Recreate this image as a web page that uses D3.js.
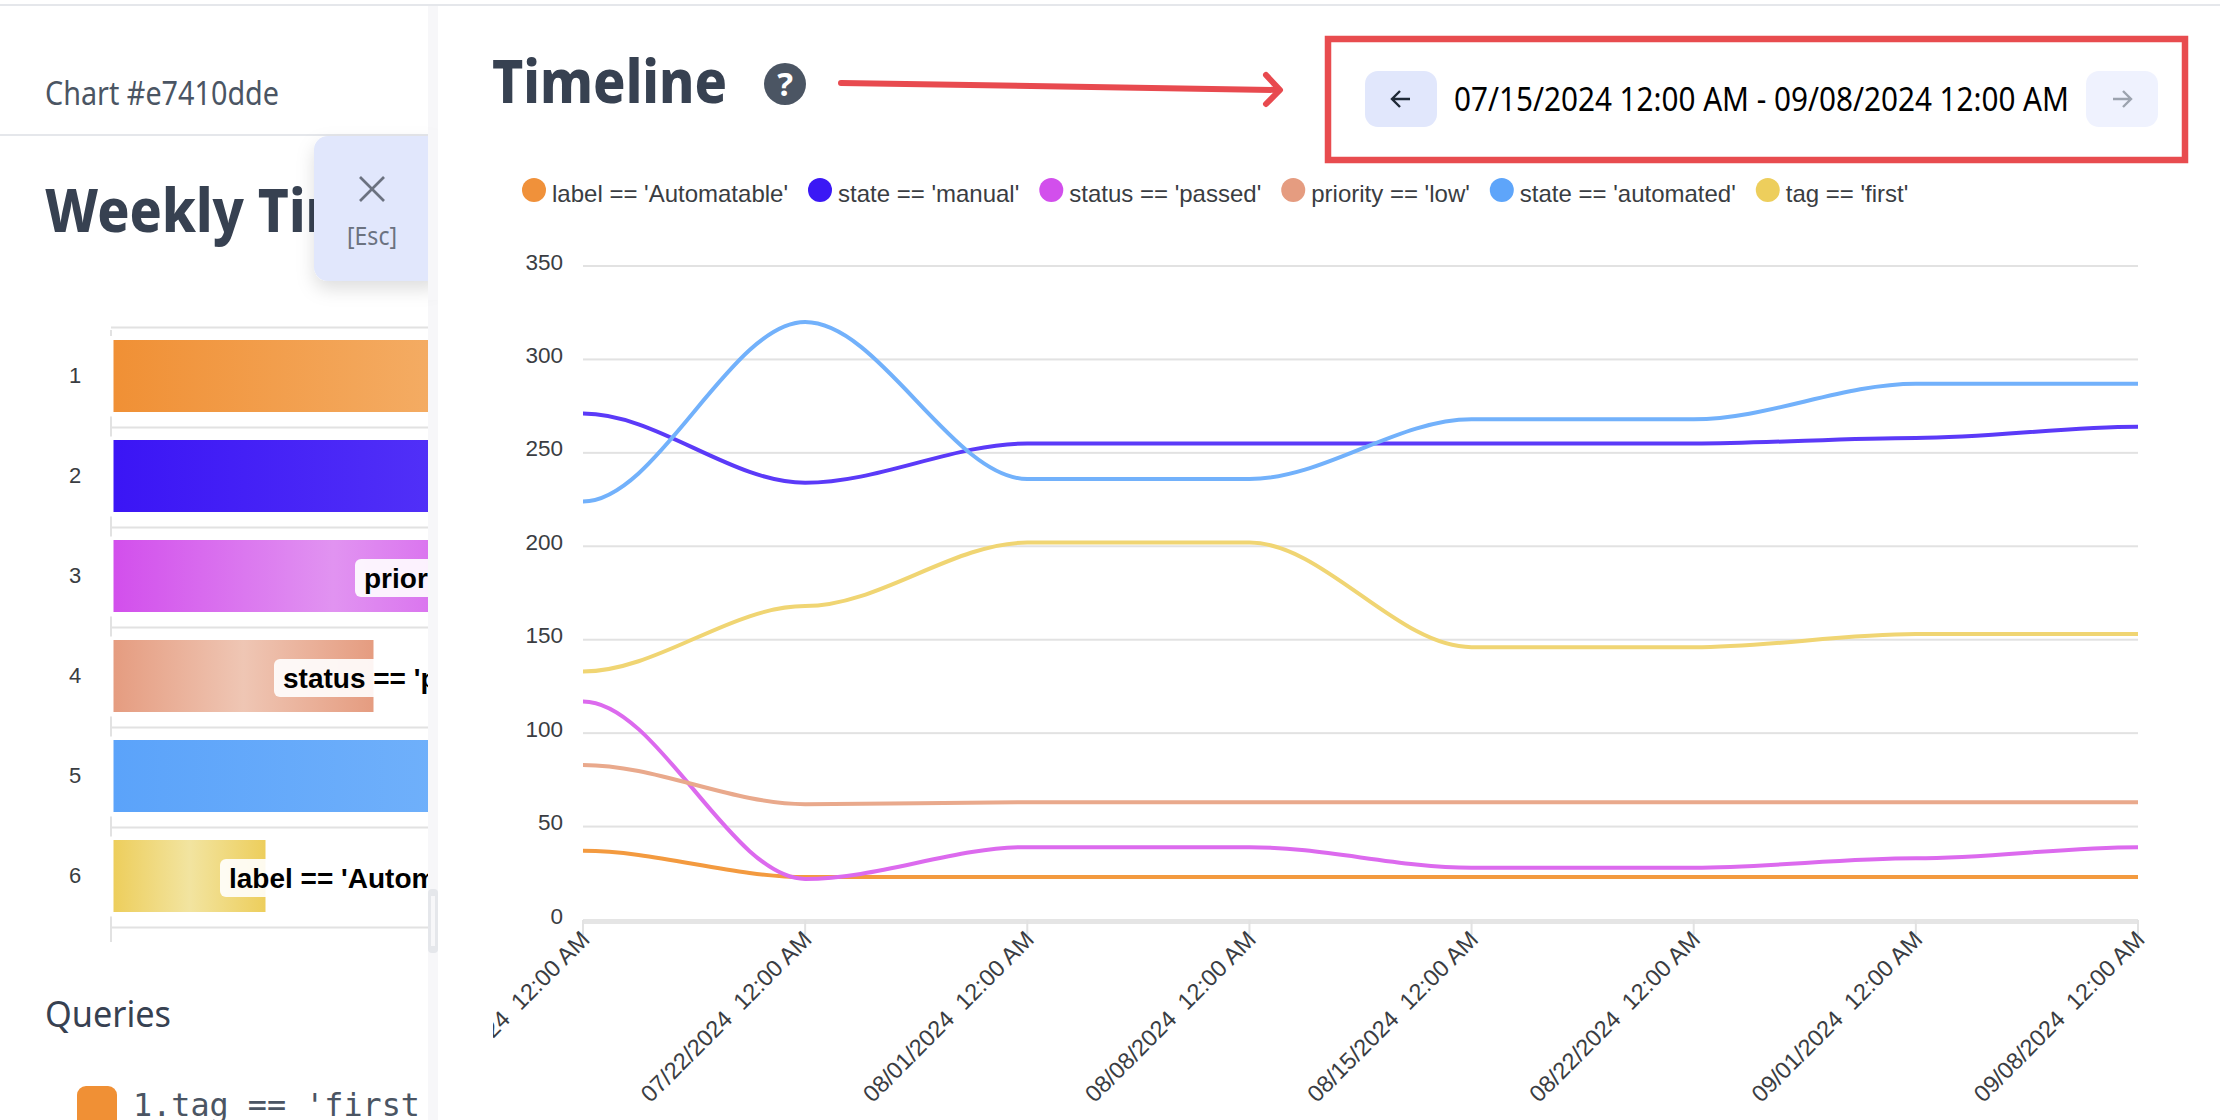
<!DOCTYPE html>
<html><head><meta charset="utf-8">
<script src="https://cdn.jsdelivr.net/npm/d3@7"></script>
<style>
html,body{margin:0;padding:0;background:#fff;overflow:hidden}
svg{display:block}
text{white-space:pre}
</style></head><body><svg id="c" width="2220" height="1120"></svg>
<script>
const dates=["07/15/2024  12:00 AM","07/22/2024  12:00 AM","08/01/2024  12:00 AM","08/08/2024  12:00 AM","08/15/2024  12:00 AM","08/22/2024  12:00 AM","09/01/2024  12:00 AM","09/08/2024  12:00 AM"];
const seriesNames=["label == 'Automatable'","state == 'manual'","status == 'passed'","priority == 'low'","state == 'automated'","tag == 'first'"];
const automatable=[37,23,23,23,23,23,23,23];
const manual=[271,234,255,255,255,255,258,264];
const passed=[117,22,39,39,28,28,33,39];
const low=[83,62,63,63,63,63,63,63];
const automated=[224,320,236,236,268,268,287,287];
const first=[133,168,202,202,146,146,153,153];
const yTicks=[0,50,100,150,200,250,300,350];
const legendColors=["#f0913a","#3b18f5","#d24fec","#e59c80","#5ea5fa","#edce5c"];
const lineColors=["#f39a3f","#5b3af8","#dc6aee","#e9a98c","#72b1fb","#f0d573"];
const barRows=[1,2,3,4,5,6];
const barValues=[80,76,44,26,80,15.2];
const barStart=["#f09035","#3b15f5","#d24fec","#e59c80","#5ba3fa","#edce5c"];
const barMid=["#f5b36f","#5535f8","#e193f1","#efc6b4","#74b3fb","#f2e4a0"];
const barLabels=[null,null,"priority == 'low'","status == 'passed'",null,"label == 'Automatable'"];

const svg=d3.select("#c");
const ink="#374151",axisInk="#3a3d42",font="'Liberation Sans',Arial,sans-serif",ui="'Noto Sans',sans-serif";
const defs=svg.append("defs");
defs.append("clipPath").attr("id","left").append("rect").attr("x",0).attr("y",0).attr("width",428).attr("height",1120);
defs.append("clipPath").attr("id","xclip").append("rect").attr("x",493).attr("y",925).attr("width",1727).attr("height",195);
const sh=defs.append("filter").attr("id","sh").attr("x","-40%").attr("y","-40%").attr("width","180%").attr("height","180%");
sh.append("feDropShadow").attr("dx",0).attr("dy",8).attr("stdDeviation",9).attr("flood-color","#000").attr("flood-opacity",.13);
barRows.forEach((r,i)=>{
  const g=defs.append("linearGradient").attr("id","g"+r);
  g.append("stop").attr("offset","0%").attr("stop-color",barStart[i]);
  g.append("stop").attr("offset","50%").attr("stop-color",barMid[i]);
  g.append("stop").attr("offset","100%").attr("stop-color",barStart[i]);
});

// ---- page chrome
svg.append("rect").attr("x",0).attr("y",4).attr("width",2220).attr("height",2).attr("fill","#e5e7eb");
svg.append("rect").attr("x",428).attr("y",6).attr("width",10).attr("height",1114).attr("fill","#f7f7f9");

// ---- left panel
const L=svg.append("g").attr("clip-path","url(#left)");
L.append("text").text("Chart #e7410dde").attr("x",45).attr("y",105).attr("font-family",ui).attr("font-size",33).attr("fill","#4b5563").attr("textLength",234).attr("lengthAdjust","spacingAndGlyphs");
L.append("rect").attr("x",0).attr("y",134).attr("width",428).attr("height",2).attr("fill","#e5e7eb");
L.append("text").text("Weekly Timeline").attr("x",45).attr("y",232).attr("font-family",ui).attr("font-weight",800).attr("font-size",61).attr("fill",ink).attr("textLength",446).attr("lengthAdjust","spacingAndGlyphs");

const bx=d3.scaleLinear().domain([0,100]).range([113.5,1113.5]);
const by=d3.scaleBand().domain(barRows).range([326,926]).paddingInner(.28).paddingOuter(.14);
const rowLine=v=>by(v)-12.5;
barRows.concat([7]).forEach(r=>{
  const y=r===7?rowLine(6)+100:rowLine(r);
  L.append("rect").attr("x",111).attr("y",y-1).attr("width",317).attr("height",2).attr("fill","#e2e2e2");
  L.append("rect").attr("x",110).attr("y",y-11).attr("width",2).attr("height",r===1?0:20).attr("fill","#e2e2e2");
});
L.append("rect").attr("x",110).attr("y",330).attr("width",2).attr("height",6).attr("fill","#e2e2e2");
L.append("rect").attr("x",110).attr("y",930).attr("width",2).attr("height",12).attr("fill","#e2e2e2");
L.selectAll("rect.bar").data(barRows).join("rect").attr("class","bar")
  .attr("x",bx(0)).attr("y",d=>by(d)).attr("height",by.bandwidth())
  .attr("width",(d,i)=>bx(barValues[i])-bx(0)).attr("fill",d=>`url(#g${d})`);
L.selectAll("text.row").data(barRows).join("text").attr("class","row").text(d=>d)
  .attr("x",75).attr("y",d=>by(d)+by.bandwidth()/2+7).attr("text-anchor","middle")
  .attr("font-family",font).attr("font-size",22).attr("fill",axisInk);
const labelLeft={3:355,4:274,6:220};
barRows.forEach((r,i)=>{
  if(!barLabels[i])return;
  L.append("rect").attr("x",labelLeft[r]).attr("y",by(r)+19).attr("width",400).attr("height",38).attr("rx",6).attr("fill","#fff").attr("fill-opacity",.9);
  L.append("text").text(barLabels[i]).attr("x",labelLeft[r]+9).attr("y",by(r)+48).attr("font-family",font).attr("font-weight",700).attr("font-size",28).attr("fill","#000");
});
L.append("text").text("Queries").attr("x",45).attr("y",1027).attr("font-family",ui).attr("font-size",36).attr("fill",ink).attr("textLength",126).attr("lengthAdjust","spacingAndGlyphs");
L.append("rect").attr("x",77).attr("y",1086).attr("width",40).attr("height",50).attr("rx",9).attr("fill",barStart[0]);
L.append("text").text("1.tag == 'first").attr("x",133).attr("y",1116).attr("font-family","'DejaVu Sans Mono','Liberation Mono',monospace").attr("font-size",32).attr("fill","#4b5563").attr("textLength",287).attr("lengthAdjust","spacingAndGlyphs");

// Esc button
svg.append("rect").attr("x",314).attr("y",136).attr("width",128).attr("height",145).attr("rx",14).attr("fill","#e1e7fc").attr("filter","url(#sh)");
svg.append("rect").attr("x",428).attr("y",130).attr("width",10).attr("height",170).attr("fill","#f7f7f9");
svg.append("rect").attr("x",438).attr("y",120).attr("width",40).attr("height",190).attr("fill","#fff");
[[-12,-12,12,12],[-12,12,12,-12]].forEach(s=>svg.append("line").attr("x1",372+s[0]).attr("y1",189+s[1]).attr("x2",372+s[2]).attr("y2",189+s[3]).attr("stroke","#6b7280").attr("stroke-width",2.6));
svg.append("text").text("[Esc]").attr("x",372).attr("y",245).attr("text-anchor","middle").attr("font-family",ui).attr("font-size",26).attr("fill","#6b7280").attr("textLength",50).attr("lengthAdjust","spacingAndGlyphs");
svg.append("rect").attr("x",428).attr("y",889).attr("width",10).attr("height",64).attr("rx",4).attr("fill","#e5e7eb");
svg.append("rect").attr("x",431).attr("y",896).attr("width",4).attr("height",50).attr("fill","#f7f7f9");

// ---- right panel header
svg.append("text").text("Timeline").attr("x",492).attr("y",103).attr("font-family",ui).attr("font-weight",800).attr("font-size",61).attr("fill",ink).attr("textLength",235).attr("lengthAdjust","spacingAndGlyphs");
svg.append("circle").attr("cx",785).attr("cy",84).attr("r",21).attr("fill","#4b5563");
svg.append("text").text("?").attr("x",785).attr("y",96).attr("text-anchor","middle").attr("font-family",ui).attr("font-weight",700).attr("font-size",33).attr("fill","#fff");
svg.append("line").attr("x1",841).attr("y1",83).attr("x2",1278).attr("y2",90).attr("stroke","#e84a4f").attr("stroke-width",6).attr("stroke-linecap","round");
svg.append("path").attr("d","M1266,75L1280,90L1266,104").attr("fill","none").attr("stroke","#e84a4f").attr("stroke-width",6).attr("stroke-linecap","round").attr("stroke-linejoin","round");
svg.append("rect").attr("x",1328).attr("y",39).attr("width",857).attr("height",121).attr("fill","none").attr("stroke","#e84c4f").attr("stroke-width",6.5);
svg.append("rect").attr("x",1365).attr("y",71).attr("width",72).attr("height",56).attr("rx",13).attr("fill","#e1e7fc");
svg.append("rect").attr("x",2086).attr("y",71).attr("width",72).attr("height",56).attr("rx",13).attr("fill","#eff2fe");
svg.append("path").attr("d","M1410,99H1393M1400,91L1392,99L1400,107").attr("fill","none").attr("stroke","#1f2937").attr("stroke-width",2.4);
svg.append("path").attr("d","M2113,99H2130M2123,91L2131,99L2123,107").attr("fill","none").attr("stroke","#9ca3af").attr("stroke-width",2.4);
svg.append("text").text("07/15/2024 12:00 AM - 09/08/2024 12:00 AM").attr("x",1454).attr("y",111).attr("font-family",ui).attr("font-size",32).attr("fill","#000").attr("textLength",615).attr("lengthAdjust","spacingAndGlyphs");

// ---- legend
let lx=534;
seriesNames.forEach((n,i)=>{
  svg.append("circle").attr("cx",lx).attr("cy",190).attr("r",12).attr("fill",legendColors[i]);
  const t=svg.append("text").text(n).attr("x",lx+18).attr("y",202).attr("font-family",font).attr("font-size",24).attr("fill",axisInk);
  lx+=18+t.node().getComputedTextLength()+32;
});

// ---- timeline chart
const x=d3.scalePoint().domain(dates).range([583,2138]);
const y=d3.scaleLinear().domain([0,350]).range([920,266]);
const plot=svg.append("g");
yTicks.filter(v=>v>0).forEach(v=>plot.append("rect").attr("x",583).attr("y",y(v)-1).attr("width",1555).attr("height",2).attr("fill","#e2e2e2"));
plot.append("rect").attr("x",583).attr("y",y(0)-1).attr("width",1555).attr("height",5).attr("fill","#e5e5e5");
dates.forEach(d=>plot.append("rect").attr("x",x(d)-1).attr("y",920).attr("width",2).attr("height",15).attr("fill","#e2e2e2"));
plot.selectAll("text.yl").data(yTicks).join("text").attr("class","yl").text(d=>d)
  .attr("x",563).attr("y",d=>y(d)+3.5).attr("text-anchor","end").attr("font-family",font).attr("font-size",22.5).attr("fill",axisInk);
const xg=svg.append("g").attr("clip-path","url(#xclip)");
xg.selectAll("text").data(dates).join("text").text(d=>d)
  .attr("text-anchor","end").attr("font-family",font).attr("font-size",23.5).attr("fill",axisInk)
  .attr("transform",d=>`translate(${x(d)+8},${941}) rotate(-45)`);
// flat tangent at every point, control handles at a third of each span
function flatCurve(ctx){
  let px,py,n;
  return {
    areaStart(){},areaEnd(){},
    lineStart(){n=0},lineEnd(){},
    point(a,b){
      a=+a;b=+b;
      if(n++===0)ctx.moveTo(a,b);
      else{const k=(a-px)/3;ctx.bezierCurveTo(px+k,py,a-k,b,a,b);}
      px=a;py=b;
    }
  };
}
const line=d3.line().x((v,i)=>x(dates[i])).y(v=>y(v)).curve(flatCurve);
[automatable,manual,passed,low,automated,first].forEach((s,i)=>{
  plot.append("path").attr("d",line(s)).attr("fill","none").attr("stroke",lineColors[i]).attr("stroke-width",4);
});
</script></body></html>
